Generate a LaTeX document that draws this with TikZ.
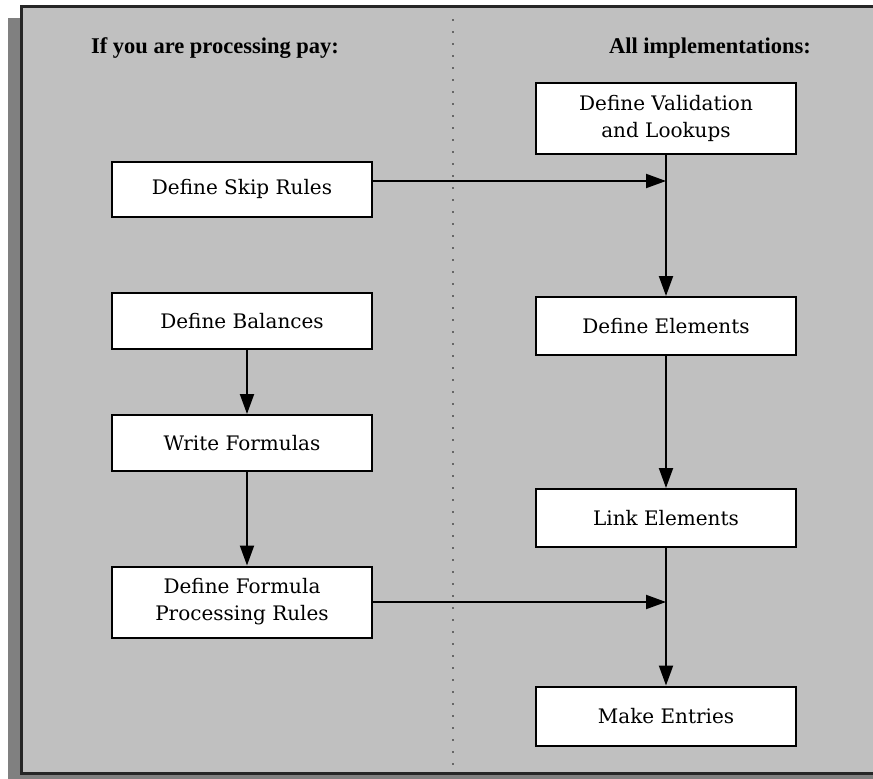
\documentclass[tikz,border=0pt]{standalone}
\usepackage{fontspec}
\setmainfont{DejaVu Serif}
\newfontfamily\headfont{Liberation Serif}
\usetikzlibrary{arrows.meta}

\definecolor{panelgray}{RGB}{192,192,192}
\definecolor{shadowgray}{RGB}{128,128,128}

\tikzset{
    stepbox/.style={draw=black, line width=2pt, fill=white, minimum width=260pt,
                    align=center, font=\fontsize{20}{27}\selectfont, inner sep=0pt},
    heading/.style={font=\headfont\bfseries\fontsize{22.5}{26}\selectfont, anchor=base},
    flow/.style={line width=2pt, -{Triangle[length=20pt,width=14pt]}},
}

\begin{document}
\begin{tikzpicture}[x=1pt,y=-1pt]
    \useasboundingbox (0,0) rectangle (873,779);

    \fill[shadowgray] (8,18) rectangle (880,779);
    \draw[fill=panelgray, draw=black!85, line width=3pt] (21,6) rectangle (880,773);
    \draw[shadowgray!80!black, line width=2pt, dash pattern=on 2pt off 10pt] (453,19) -- (453,765);

    \node[heading] (payhead) at (215,53) {If you are processing pay:};
    \node[heading] (allhead) at (710,53) {All implementations:};

    % left column
    \node[stepbox, minimum height=55pt] (skip) at (242,189) {Define Skip Rules};
    \node[stepbox, minimum height=56pt] (balances) at (242,321) {Define Balances};
    \node[stepbox, minimum height=56pt] (formulas) at (242,443) {Write Formulas};
    \node[stepbox, minimum height=71pt] (procrules) at (242,602) {Define Formula\\Processing Rules};

    % right column
    \node[stepbox, minimum height=71pt] (validation) at (666,118) {Define Validation\\and Lookups};
    \node[stepbox, minimum height=58pt] (elements) at (666,326) {Define Elements};
    \node[stepbox, minimum height=58pt] (link) at (666,518) {Link Elements};
    \node[stepbox, minimum height=59pt] (entries) at (666,716) {Make Entries};

    \coordinate (skipjoin) at (666,181);
    \coordinate (procjoin) at (666,602);
    \coordinate (leftline) at (247,0);

    \draw[flow] (skip.east |- skipjoin) -- (skipjoin);
    \draw[flow] (procrules.east |- procjoin) -- (procjoin);
    \draw[flow] (balances.south -| leftline) -- (formulas.north -| leftline);
    \draw[flow] (formulas.south -| leftline) -- (procrules.north -| leftline);
    \draw[flow] (validation) -- (elements);
    \draw[flow] (elements) -- (link);
    \draw[flow] (link) -- (entries);
\end{tikzpicture}
\end{document}
